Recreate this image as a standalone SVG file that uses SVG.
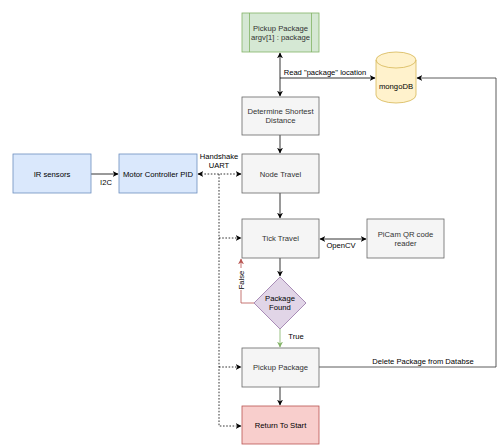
<svg xmlns="http://www.w3.org/2000/svg" width="502" height="445" viewBox="0 0 502 445">
<defs>
<style>
text{font-family:"Liberation Sans",Arial,sans-serif;font-size:7.7px;text-anchor:middle}
.g{fill:#f5f5f5;stroke:#666666;stroke-width:0.8}
.gt{fill:#333333}
.bl{fill:#dae8fc;stroke:#6c8ebf;stroke-width:0.8}
.lbl{font-size:7.6px;fill:#000}
.ln{fill:none;stroke:#000;stroke-width:0.8}
.dash{stroke-dasharray:1.6 1.6}
</style>
<marker id="ah" viewBox="0 0 10 10" refX="9" refY="5" markerWidth="6" markerHeight="6" markerUnits="userSpaceOnUse" orient="auto-start-reverse"><path d="M0,0 L10,5 L0,10 L3,5 Z" fill="#000"/></marker>
<marker id="ahr" viewBox="0 0 10 10" refX="9" refY="5" markerWidth="6" markerHeight="6" markerUnits="userSpaceOnUse" orient="auto"><path d="M0,0 L10,5 L0,10 L3,5 Z" fill="#b85450"/></marker>
<marker id="ahg" viewBox="0 0 10 10" refX="9" refY="5" markerWidth="6" markerHeight="6" markerUnits="userSpaceOnUse" orient="auto"><path d="M0,0 L10,5 L0,10 L3,5 Z" fill="#82b366"/></marker>
</defs>
<rect width="502" height="445" fill="#fff"/>
<g id="connectors">
<path class="ln" d="M280,53 V96" marker-start="url(#ah)" marker-end="url(#ah)"/>
<path class="ln" d="M280,78 H375" marker-end="url(#ah)"/>
<text class="lbl" x="325" y="74.5">Read "package" location</text>
<path class="ln" d="M280,135 V153" marker-end="url(#ah)"/>
<path class="ln" d="M91,174 H118" marker-end="url(#ah)"/>
<text class="lbl" x="106" y="185">I2C</text>
<path class="ln dash" d="M198,174 H241" marker-start="url(#ah)" marker-end="url(#ah)"/>
<text class="lbl" x="219" y="159">Handshake</text>
<text class="lbl" x="219" y="168">UART</text>
<path class="ln dash" d="M219,174 V426 H241" marker-end="url(#ah)"/>
<path class="ln dash" d="M219,238 H241" marker-end="url(#ah)"/>
<path class="ln dash" d="M219,367 H241" marker-end="url(#ah)"/>
<path class="ln" d="M280,193 V218" marker-end="url(#ah)"/>
<path class="ln" d="M320,239 H366" marker-start="url(#ah)" marker-end="url(#ah)"/>
<text class="lbl" x="341" y="248">OpenCV</text>
<path class="ln" d="M280,258 V276" marker-end="url(#ah)"/>
<path fill="none" stroke="#b85450" stroke-width="0.8" d="M254,303 H241 V259" marker-end="url(#ahr)"/>
<rect x="237" y="268" width="9" height="22" fill="#fff"/>
<text class="lbl" x="0" y="0" transform="translate(244,280) rotate(-90)">False</text>
<path fill="none" stroke="#82b366" stroke-width="0.8" d="M280,329 V347" marker-end="url(#ahg)"/>
<text class="lbl" x="296" y="339">True</text>
<path class="ln" d="M280,387 V405" marker-end="url(#ah)"/>
<path class="ln" style="stroke:#333" d="M319,367 H496 V78 H417" marker-end="url(#ah)"/>
<text class="lbl" x="423" y="364">Delete Package from Databse</text>
</g>
<g id="pickup-start">
<rect x="242" y="13" width="77" height="39" fill="#d5e8d4" stroke="#82b366" stroke-width="0.8"/>
<line x1="249.5" y1="13" x2="249.5" y2="52" stroke="#82b366" stroke-width="0.8"/>
<line x1="311.5" y1="13" x2="311.5" y2="52" stroke="#82b366" stroke-width="0.8"/>
<text class="gt" x="280.5" y="31">Pickup Package</text>
<text class="gt" x="280.5" y="40">argv[1] : package</text>
</g>
<g id="mongodb">
<path d="M376,60 A20,8 0 0 1 416,60 V95 A20,8 0 0 1 376,95 Z" fill="#fff2cc" stroke="#d6b656" stroke-width="0.8"/>
<path d="M376,60 A20,8 0 0 0 416,60" fill="none" stroke="#d6b656" stroke-width="0.8"/>
<text x="396" y="89" fill="#000">mongoDB</text>
</g>
<g id="determine">
<rect class="g" x="242" y="97" width="77" height="38"/>
<text class="gt" x="280.5" y="114">Determine Shortest</text>
<text class="gt" x="280.5" y="123">Distance</text>
</g>
<g id="ir-sensors">
<rect class="bl" x="13" y="154" width="78" height="39"/>
<text x="52" y="177" fill="#000">IR sensors</text>
</g>
<g id="motor-controller">
<rect class="bl" x="119" y="154" width="78" height="39"/>
<text x="158" y="177" fill="#000">Motor Controller PID</text>
</g>
<g id="node-travel">
<rect class="g" x="242" y="154" width="77" height="39"/>
<text class="gt" x="280.5" y="177">Node Travel</text>
</g>
<g id="tick-travel">
<rect class="g" x="242" y="219" width="77" height="39"/>
<text class="gt" x="280.5" y="241">Tick Travel</text>
</g>
<g id="picam">
<rect class="g" x="367" y="219" width="77" height="39"/>
<text class="gt" x="405.5" y="237">PiCam QR code</text>
<text class="gt" x="405.5" y="246">reader</text>
</g>
<g id="package-found">
<path d="M280,277 L306,303 L280,329 L254,303 Z" fill="#e1d5e7" stroke="#9673a6" stroke-width="0.8"/>
<text x="280" y="301" fill="#000">Package</text>
<text x="280" y="310" fill="#000">Found</text>
</g>
<g id="pickup-package">
<rect class="g" x="242" y="348" width="77" height="39"/>
<text class="gt" x="280.5" y="370">Pickup Package</text>
</g>
<g id="return-start">
<rect x="242" y="406" width="77" height="38" fill="#f8cecc" stroke="#b85450" stroke-width="0.8"/>
<text x="280.5" y="428" fill="#000">Return To Start</text>
</g>
</svg>
